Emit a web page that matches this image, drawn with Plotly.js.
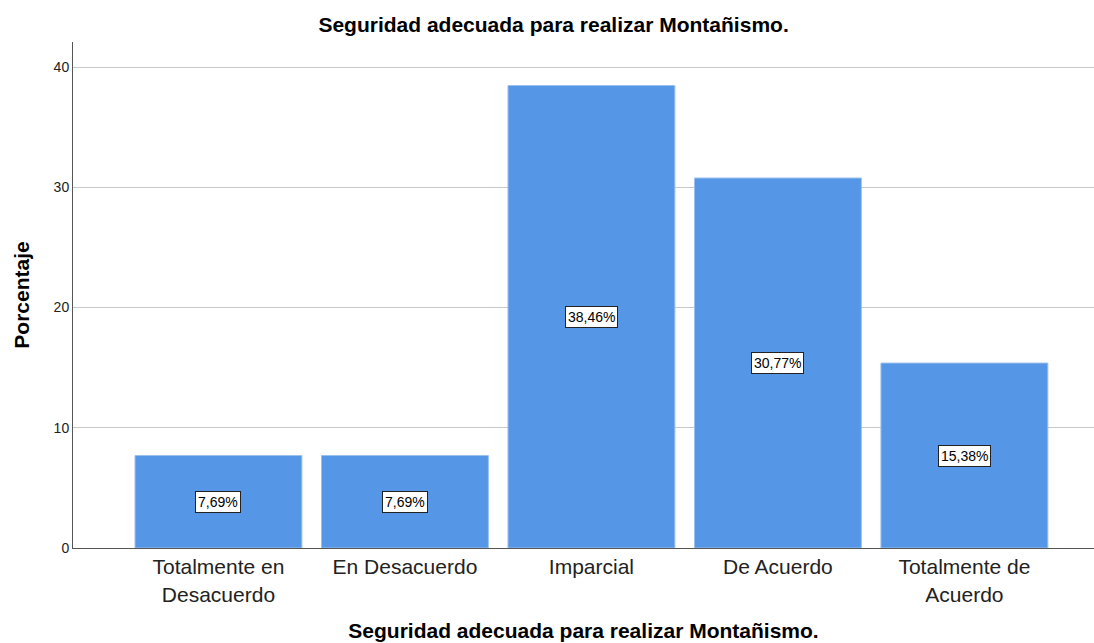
<!DOCTYPE html>
<html>
<head>
<meta charset="utf-8">
<script src="https://cdn.plot.ly/plotly-3.0.1.min.js"></script>
<style>html,body{margin:0;padding:0;background:#fff;}#chart{width:1094px;height:643px;}</style>
</head>
<body>
<div id="chart"></div>
<script>
var categories = ["Totalmente en<br>Desacuerdo", "En Desacuerdo", "Imparcial", "De Acuerdo", "Totalmente de<br>Acuerdo"];
var values = [7.69, 7.69, 38.46, 30.77, 15.38];
var yTicks = [0, 10, 20, 30, 40];

var font = "Liberation Sans, Arial, sans-serif";
var annotations = values.map(function(v, i){
  return {
    x: i, y: v/2, xref: 'x', yref: 'y',
    text: v.toFixed(2).replace('.', ',') + '%',
    showarrow: false,
    bgcolor: '#ffffff', bordercolor: '#222222', borderwidth: 1, borderpad: 2,
    font: {family: font, size: 14, color: '#000'}
  };
});

var trace = {
  type: 'bar',
  x: categories.map(function(c, i){ return i; }),
  y: values,
  marker: {color: '#5596e6', line: {color: '#9cc0ee', width: 1}},
  hoverinfo: 'none'
};

var layout = {
  width: 1094, height: 643,
  margin: {l: 73, r: 0, t: 42, b: 95},
  paper_bgcolor: '#fff', plot_bgcolor: '#fff',
  showlegend: false,
  bargap: 0.105,
  title: {text: 'Seguridad adecuada para realizar Montañismo.', font: {family: font, size: 21, color: '#000', weight: 'bold'}, x: 0.506, xref: 'container', xanchor: 'center', y: 0.962, yref: 'container', yanchor: 'middle'},
  xaxis: {
    range: [-0.78, 4.695],
    tickmode: 'array',
    tickvals: [0,1,2,3,4],
    ticktext: categories,
    tickfont: {family: font, size: 21, color: '#222'},
    ticks: '', showgrid: false, zeroline: false,
    showline: true, linecolor: '#555', linewidth: 1,
    title: {text: 'Seguridad adecuada para realizar Montañismo.', font: {family: font, size: 21, color: '#000', weight: 'bold'}, standoff: 18}
  },
  yaxis: {
    range: [0, 42.08],
    tickmode: 'array', tickvals: yTicks,
    tickfont: {family: font, size: 14, color: '#222'},
    ticks: '', ticklen: 0,
    showgrid: true, gridcolor: '#c8c8c8', gridwidth: 1,
    zeroline: false,
    showline: true, linecolor: '#555', linewidth: 1,
    title: {text: 'Porcentaje', font: {family: font, size: 21, color: '#000', weight: 'bold'}, standoff: 18}
  },
  annotations: annotations
};

Plotly.newPlot('chart', [trace], layout, {displayModeBar: false, staticPlot: true});
</script>
</body>
</html>
